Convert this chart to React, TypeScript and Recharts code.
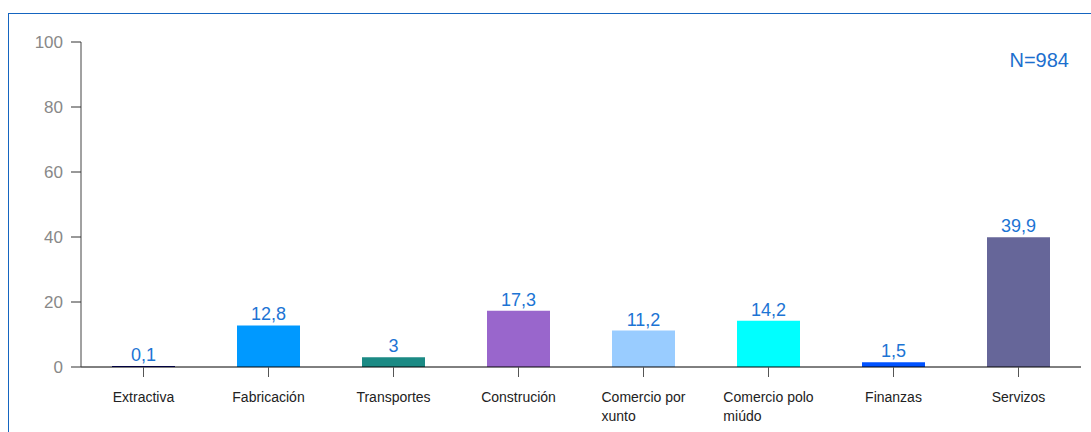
import { BarChart, Bar, XAxis, YAxis, Cell, LabelList } from "recharts";

const categories = [
  "Extractiva",
  "Fabricación",
  "Transportes",
  "Construción",
  "Comercio por xunto",
  "Comercio polo miúdo",
  "Finanzas",
  "Servizos",
];
const values = [0.1, 12.8, 3, 17.3, 11.2, 14.2, 1.5, 39.9];
const yTicks = [0, 20, 40, 60, 80, 100];
const sampleSize = "N=984";

const barColors = [
  "#000080",
  "#0099ff",
  "#1b8a84",
  "#9966cc",
  "#99ccff",
  "#00ffff",
  "#0052ff",
  "#666699",
];

const data = categories.map((name, i) => ({ name, value: values[i] }));

const FONT = "'Liberation Sans', Arial, sans-serif";
const BLUE = "#1c74d4";

let ctx: CanvasRenderingContext2D | null = null;
const measure = (s: string) => {
  if (!ctx) ctx = document.createElement("canvas").getContext("2d");
  if (!ctx) return s.length * 7;
  ctx.font = `14px ${FONT}`;
  return ctx.measureText(s).width;
};

const wrap = (label: string, maxW: number) => {
  const words = label.split(" ");
  const lines: string[] = [];
  let cur = "";
  words.forEach((w) => {
    const next = cur ? cur + " " + w : w;
    if (cur && measure(next) > maxW) {
      lines.push(cur);
      cur = w;
    } else cur = next;
  });
  if (cur) lines.push(cur);
  return lines;
};

const XTick = (props: any) => {
  const { x, y, payload } = props;
  const lines = wrap(String(payload.value), 100);
  const x0 = x - measure(lines[0]) / 2;
  return (
    <text x={x0} y={y + 25} fontSize={14} fontFamily={FONT} fill="#222" textAnchor="start">
      {lines.map((l, i) => (
        <tspan key={i} x={x0} dy={i === 0 ? 0 : 19}>
          {l}
        </tspan>
      ))}
    </text>
  );
};

export default function App() {
  return (
    <div
      style={{
        position: "absolute",
        left: 8,
        top: 13,
        width: 1083,
        height: 419,
        boxSizing: "border-box",
        borderTop: "1px solid #1565c0",
        borderLeft: "1px solid #1565c0",
        background: "#fff",
      }}
    >
      <BarChart
        width={1082}
        height={418}
        data={data}
        margin={{ top: 28, right: 10, left: 0, bottom: 20 }}
      >
        <XAxis
          dataKey="name"
          interval={0}
          height={45}
          tickSize={10}
          tickMargin={0}
          axisLine={{ stroke: "#000" }}
          tickLine={{ stroke: "#555" }}
          tick={<XTick />}
        />
        <YAxis
          width={72}
          domain={[0, 100]}
          ticks={yTicks}
          tickSize={10}
          tickMargin={8}
          axisLine={{ stroke: "#444" }}
          tickLine={{ stroke: "#333" }}
          tick={{ fill: "#888", fontSize: 17, fontFamily: FONT }}
        />
        <Bar dataKey="value" barSize={63} isAnimationActive={false} minPointSize={1}>
          {data.map((d, i) => (
            <Cell key={d.name} fill={barColors[i]} />
          ))}
          <LabelList
            dataKey="value"
            position="top"
            offset={5}
            fill={BLUE}
            fontSize={18}
            fontFamily={FONT}
            formatter={(v: any) => String(v).replace(".", ",")}
          />
        </Bar>
        <text x={1060} y={53} textAnchor="end" fontSize={20} fontFamily={FONT} fill="#1c6fce">
          {sampleSize}
        </text>
      </BarChart>
    </div>
  );
}
